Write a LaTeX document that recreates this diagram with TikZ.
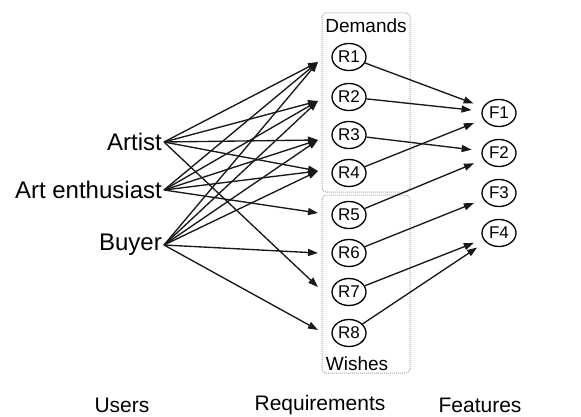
\documentclass[tikz,border=0pt]{standalone}
\usepackage{fontspec}
\setmainfont{Liberation Sans}
\usetikzlibrary{arrows.meta,shapes.geometric}

\begin{document}
\begin{tikzpicture}[x=1pt,y=-1pt,
    user/.style={inner sep=2pt,font=\fontsize{24}{26}\selectfont},
    title/.style={font=\fontsize{21}{24}\selectfont},
    grptitle/.style={inner sep=0pt,font=\fontsize{19}{21}\selectfont},
    grp/.style={draw=gray!70,densely dotted,line width=1pt,rounded corners=4pt},
    rnode/.style={draw,ellipse,line width=1.3pt,minimum width=34pt,minimum height=27pt,inner sep=0pt,font=\fontsize{17}{18}\selectfont},
    link/.style={line width=1.35pt,black!90,-{Triangle[length=10pt,width=7pt]}}]
    \useasboundingbox (0,0) rectangle (581,417);

    % boxes for the two kinds of requirements
    \draw[grp] (322,13) rectangle (410,192);
    \draw[grp] (322,195) rectangle (410,373);
    \node[grptitle] (dem) at (366,26) {Demands};
    \node[grptitle] (wis) at (357,364) {Wishes};

    % users
    \node[user,anchor=east] (artist) at (164,142) {Artist};
    \node[user,anchor=east] (fan) at (164,190) {Art enthusiast};
    \node[user,anchor=east] (buyer) at (164,245) {Buyer};

    % requirements and features
    \foreach \k/\y in {1/57,2/97,3/135,4/173,5/215,6/253,7/292,8/333}
        \node[rnode] (R\k) at (349,\y) {R\k};
    \foreach \k/\y in {1/113,2/153,3/193,4/233}
        \node[rnode] (F\k) at (499,\y) {F\k};

    % arrows stop at the box edge
    \foreach \k/\y in {1/62,2/101,3/140,4/171,5/213,6/253,7/287,8/330}
        \coordinate (in\k) at (318,\y);

    \foreach \k in {1,2,3,4,7}
        \draw[link] (artist.east) -- (in\k);
    \foreach \k in {1,2,3,4,5}
        \draw[link] (fan.east) -- (in\k);
    \foreach \k in {1,2,3,4,6,8}
        \draw[link] (buyer.east) -- (in\k);

    \foreach \a/\b in {1/1,2/1,4/1,3/2,5/2,6/3,7/4,8/4}
        \draw[link,shorten >=10pt] (R\a) -- (F\b);

    % column titles
    \node[title] (users) at (122,405) {Users};
    \node[title] (reqs) at (320,405) {Requirements};
    \node[title] (feats) at (480,405) {Features};
\end{tikzpicture}
\end{document}
